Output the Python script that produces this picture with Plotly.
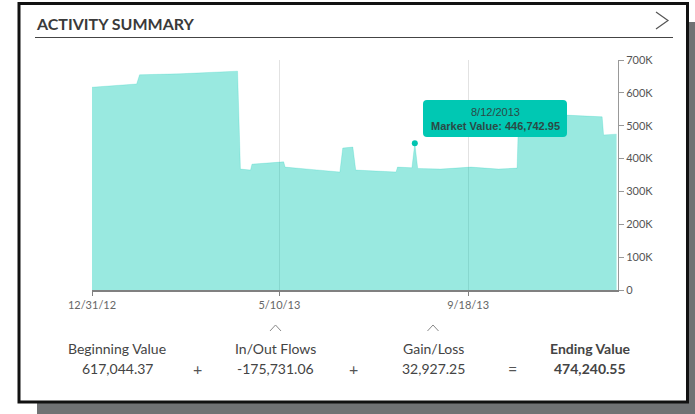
import plotly.graph_objects as go

# ---- data ----
dates = ["2012-12-31", "2013-01-31", "2013-02-02", "2013-03-02", "2013-04-11",
         "2013-04-13", "2013-04-20", "2013-04-21", "2013-05-13", "2013-05-14",
         "2013-06-01", "2013-06-21", "2013-06-23", "2013-06-30", "2013-07-02",
         "2013-07-30", "2013-07-31", "2013-08-10", "2013-08-12", "2013-08-14",
         "2013-08-30", "2013-09-20", "2013-10-09", "2013-10-22", "2013-10-23",
         "2013-11-21", "2013-12-20", "2013-12-21", "2013-12-30"]
values = [617044.37, 627000, 655000, 658000, 666000,
          368000, 365000, 383000, 390000, 374000,
          367000, 359000, 432000, 435000, 365000,
          359000, 374000, 372000, 446742.95, 370000,
          368000, 374000, 368000, 371000, 530000,
          533000, 527000, 472000, 474240.55]
hover_date = "2013-08-12"
hover_value = 446742.95
x_tickvals = ["2012-12-31", "2013-05-10", "2013-09-18"]
x_ticktext = ["12/31/12", "5/10/13", "9/18/13"]
y_tickvals = [0, 100000, 200000, 300000, 400000, 500000, 600000, 700000]
y_ticktext = ["0", "100K", "200K", "300K", "400K", "500K", "600K", "700K"]
summary_labels = ["Beginning Value", "In/Out Flows", "Gain/Loss", "Ending Value"]
summary_values = ["617,044.37", "-175,731.06", "32,927.25", "474,240.55"]
operators = ["+", "+", "="]

W, H = 695, 414
# plot area in window pixel coordinates
L, R, T, B = 92, 618, 60, 290


def px(x, y):
    return (x - L) / (R - L), (B - y) / (B - T)


fig = go.Figure()
fig.add_trace(go.Scatter(
    x=dates, y=values, mode="lines", fill="tozeroy",
    fillcolor="rgba(0,200,178,0.40)",
    line=dict(color="rgba(0,200,178,0.40)", width=0.5),
    hoverinfo="skip", showlegend=False))
fig.add_trace(go.Scatter(
    x=[hover_date], y=[hover_value], mode="markers",
    marker=dict(color="#00c4b0", size=6),
    hoverinfo="skip", showlegend=False))

shapes = []
# shadow and card
x0, y0 = px(37, 22); x1, y1 = px(720, 430)
shapes.append(dict(type="rect", xref="paper", yref="paper", x0=x0, y0=y0, x1=x1, y1=y1,
                   fillcolor="#707274", line=dict(width=0), layer="below"))
x0, y0 = px(19, 3.5); x1, y1 = px(687.5, 402)
shapes.append(dict(type="rect", xref="paper", yref="paper", x0=x0, y0=y0, x1=x1, y1=y1,
                   fillcolor="white", line=dict(color="#111", width=3), layer="below"))
# title underline
x0, y0 = px(35, 37.5); x1, _ = px(673, 37.5)
shapes.append(dict(type="line", xref="paper", yref="paper", x0=x0, y0=y0, x1=x1, y1=y0,
                   line=dict(color="#444", width=1)))


def path(points):
    s = ""
    for i, (a, b) in enumerate(points):
        pa, pb = px(a, b)
        s += ("M" if i == 0 else "L") + f"{pa:.5f},{pb:.5f} "
    return s


# chevron
shapes.append(dict(type="path", xref="paper", yref="paper",
                   path=path([(656, 12), (668, 20.5), (656, 29)]),
                   line=dict(color="#555", width=1.2)))
# carets
for cx in (275.5, 433):
    shapes.append(dict(type="path", xref="paper", yref="paper",
                       path=path([(cx - 5.5, 331), (cx, 325), (cx + 5.5, 331)]),
                       line=dict(color="#888", width=1)))

# tooltip rounded rect
tx0, ty0, tx1, ty1, r = 423, 100, 567, 137, 4


def rrect(x0, y0, x1, y1, r):
    def p(a, b):
        u, v = px(a, b)
        return f"{u:.5f},{v:.5f}"
    return (f"M{p(x0 + r, y0)} L{p(x1 - r, y0)} Q{p(x1, y0)} {p(x1, y0 + r)} "
            f"L{p(x1, y1 - r)} Q{p(x1, y1)} {p(x1 - r, y1)} L{p(x0 + r, y1)} "
            f"Q{p(x0, y1)} {p(x0, y1 - r)} L{p(x0, y0 + r)} Q{p(x0, y0)} {p(x0 + r, y0)} Z")


shapes.append(dict(type="path", xref="paper", yref="paper",
                   path=rrect(tx0, ty0, tx1, ty1, r),
                   fillcolor="#00c8b3", line=dict(width=0)))

annotations = []


def ann(text, x, y, size, color, family="Lato", xanchor="center"):
    u, v = px(x, y)
    annotations.append(dict(text=text, x=u, y=v, xref="paper", yref="paper",
                            xanchor=xanchor, yanchor="middle", showarrow=False,
                            font=dict(size=size, color=color, family=family)))


ann("<b>ACTIVITY SUMMARY</b>", 34, 23, 16, "#3a3a3a", xanchor="left")
ann("8/12/2013", 495, 112, 11, "#2b4a46", family="Liberation Sans")
ann("<b>Market Value: 446,742.95</b>", 495, 125.5, 11, "#2b4a46", family="Liberation Sans")

label_x = [117, 275, 433, 590]
op_x = [197, 353, 512]
for i, (lab, val) in enumerate(zip(summary_labels, summary_values)):
    if i == 3:
        lab, val = f"<b>{lab}</b>", f"<b>{val}</b>"
    ann(lab, label_x[i], 348, 14, "#444")
    ann(val, label_x[i], 368, 14, "#444")
for ox, op in zip(op_x, operators):
    ann(op, ox, 368, 16, "#555")

fig.update_layout(
    width=W, height=H,
    margin=dict(l=L, r=W - R, t=T, b=H - B, pad=0),
    paper_bgcolor="white", plot_bgcolor="rgba(0,0,0,0)",
    shapes=shapes, annotations=annotations,
    font=dict(family="Lato", color="#555"),
    xaxis=dict(type="date", range=["2012-12-31", "2013-12-31"],
               tickvals=x_tickvals, ticktext=x_ticktext,
               showgrid=True, gridcolor="#e2e2e2", gridwidth=1,
               showline=True, linecolor="#808080", linewidth=1.5,
               ticks="outside", ticklen=4, tickcolor="#808080",
               tickfont=dict(size=11, color="#666"), zeroline=False, fixedrange=True),
    yaxis=dict(side="right", range=[0, 700000],
               tickvals=y_tickvals, ticktext=y_ticktext,
               showgrid=False, zeroline=False,
               showline=True, linecolor="#999", linewidth=1,
               ticks="outside", ticklen=5, tickcolor="#999",
               tickfont=dict(size=11, color="#555"), fixedrange=True),
)

fig.write_html("out.html", config={"displayModeBar": False},
               post_script="document.body.style.margin='0';document.body.style.overflow='hidden';")
